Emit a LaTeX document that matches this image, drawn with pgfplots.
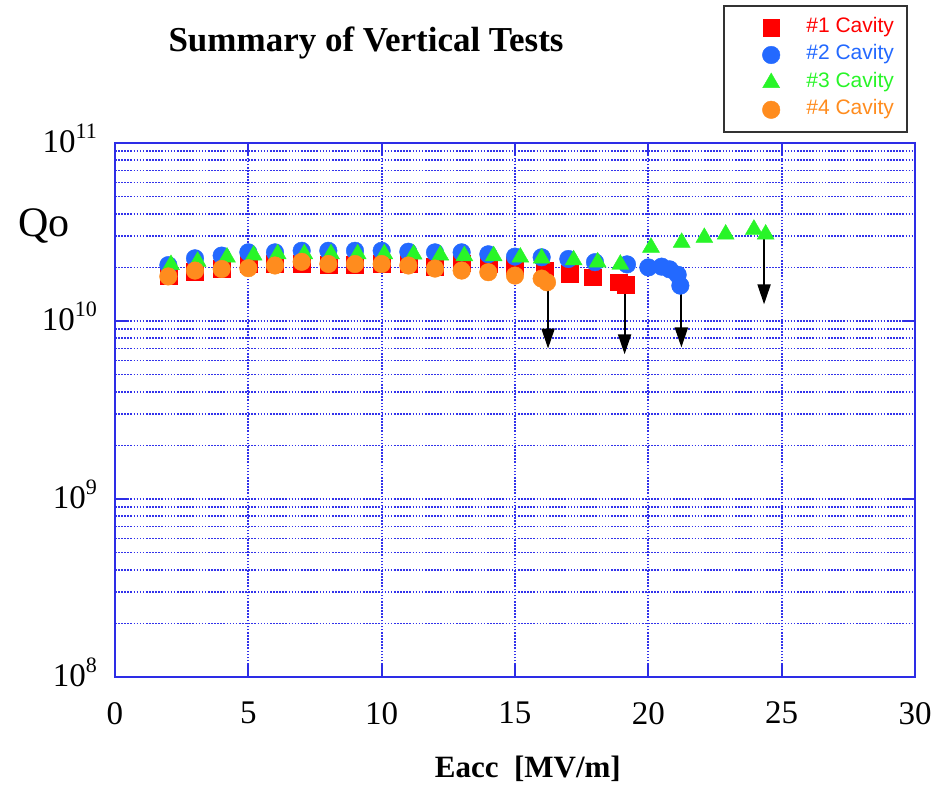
\documentclass[border=0pt]{standalone}
\usepackage{fontspec}
\setmainfont{Liberation Serif}
\setsansfont{Liberation Sans}
\usepackage{pgfplots}
\pgfplotsset{compat=1.18}
\usetikzlibrary{arrows.meta}

\definecolor{cavRed}{RGB}{255,0,0}
\definecolor{cavBlue}{RGB}{35,105,255}
\definecolor{cavGreen}{RGB}{40,245,40}
\definecolor{cavOrange}{RGB}{255,140,30}
\definecolor{axBlue}{RGB}{45,45,230}
\definecolor{gridBlue}{RGB}{50,50,235}

\newcommand{\pw}[1]{10\raisebox{0.42em}{\fontsize{11}{12}\selectfont #1}}

\pgfplotsset{
  legimg/.style={legend image code/.code={%
    \path (0pt,0pt) (34pt,0pt);
    \draw[mark repeat=2,mark phase=2] plot coordinates {(0pt,0pt)(17pt,0pt)(34pt,0pt)};}},
  dropArrow/.style={black, line width=1pt, -{Triangle[length=10pt,width=6.5pt]}, forget plot},
}

\begin{document}
\begin{tikzpicture}
\useasboundingbox (-57.5pt,-53.5pt) rectangle (414pt,338.5pt);
\begin{semilogyaxis}[
  at={(0,0)}, anchor=south west,
  scale only axis,
  width=400pt, height=267pt,
  xmin=0, xmax=30,
  ymin=1e8, ymax=1e11,
  xtick={0,5,10,15,20,25,30},
  xticklabels={0,5,10,15,20,25,30},
  ytick={1e8,1e9,1e10,1e11},
  yticklabels={\pw{8},\pw{9},\pw{10},\pw{11}},
  tick label style={font=\fontsize{16.5}{18}\selectfont},
  xticklabel style={yshift=-9pt},
  yticklabel style={xshift=-5.5pt, yshift=2.5pt},
  grid=both,
  major grid style={gridBlue, line width=0.9pt, dash pattern=on 0.8pt off 0.75pt},
  minor grid style={gridBlue, line width=0.9pt, dash pattern=on 0.8pt off 0.75pt},
  axis line style={axBlue, line width=1pt},
  major tick style={axBlue, line width=1pt},
  tick align=inside,
  major tick length=6pt,
  minor tick length=0pt,
  every axis title/.style={at={(0.3138,1.1704)}, anchor=base,
    font=\bfseries\fontsize{17.5}{20}\selectfont},
  title={Summary of Vertical Tests},
  every axis x label/.style={at={(0.516,-0.1891)}, anchor=base,
    font=\bfseries\fontsize{15.5}{18}\selectfont},
  xlabel={Eacc\ \ [MV/m]},
  every axis y label/.style={at={(-0.0888,0.8258)}, anchor=base,
    font=\fontsize{21}{24}\selectfont},
  ylabel={Qo},
  legend style={at={(0.76,1.2584)}, anchor=north west,
    draw=black!80, line width=1pt, fill=white,
    inner sep=6.5pt, row sep=4.5pt, column sep=0.5pt,
    nodes={inner sep=0pt, text height=7pt, text depth=2pt},
    font=\sffamily\fontsize{10.5}{12}\selectfont},
  legend cell align=left,
]
% #1 Cavity
\addplot[only marks, legimg, mark=square*, mark size=4.2pt, line width=0.2pt,
  mark options={draw=cavRed, fill=cavRed}] coordinates {
  (2,1.80e10) (3,1.90e10) (4,1.96e10) (5,2.09e10) (6,2.10e10) (7,2.10e10)
  (8,2.08e10) (9,2.08e10) (10,2.10e10) (11,2.10e10) (12,2.02e10) (13,2.11e10)
  (14,2.09e10) (15,2.05e10) (16.1,1.92e10) (17.05,1.84e10) (17.9,1.76e10)
  (18.9,1.65e10) (19.15,1.60e10)
};
% #2 Cavity
\addplot[only marks, legimg, mark=*, mark size=4.4pt, line width=0.2pt,
  mark options={draw=cavBlue, fill=cavBlue}] coordinates {
  (2,2.06e10) (3,2.25e10) (4,2.33e10) (5,2.43e10) (6,2.43e10) (7,2.48e10)
  (8,2.48e10) (9,2.48e10) (10,2.48e10) (11,2.45e10) (12,2.43e10) (13,2.43e10)
  (14,2.37e10) (15,2.30e10) (16,2.28e10) (17,2.23e10) (18,2.14e10)
  (19.2,2.08e10) (20.0,2.00e10) (20.5,2.02e10) (20.8,1.95e10) (21.1,1.82e10)
  (21.2,1.58e10)
};
% #3 Cavity
\addplot[only marks, legimg, mark=triangle*, mark size=4.9pt, line width=0.2pt,
  mark options={draw=cavGreen, fill=cavGreen}] coordinates {
  (2.1,2.07e10) (3.1,2.16e10) (4.2,2.28e10) (5.2,2.34e10) (6.1,2.38e10)
  (7.1,2.38e10) (8.1,2.38e10) (9.1,2.38e10) (10.1,2.38e10) (11.2,2.37e10)
  (12.2,2.34e10) (13.1,2.32e10) (14.2,2.32e10) (15.2,2.28e10) (16,2.25e10)
  (17.2,2.20e10) (18.1,2.14e10) (18.95,2.08e10) (20.1,2.59e10) (21.25,2.76e10)
  (22.1,2.94e10) (22.9,3.07e10) (23.96,3.27e10) (24.4,3.07e10)
};
% #4 Cavity
\addplot[only marks, legimg, mark=*, mark size=4.4pt, line width=0.2pt,
  mark options={draw=cavOrange, fill=cavOrange}] coordinates {
  (2,1.78e10) (3,1.92e10) (4,1.96e10) (5,1.98e10) (6,2.05e10) (7,2.15e10)
  (8,2.09e10) (9,2.09e10) (10,2.09e10) (11,2.05e10) (12,1.97e10) (13,1.92e10)
  (14,1.88e10) (15,1.80e10) (16,1.73e10) (16.2,1.65e10)
};
\legend{\textcolor{cavRed}{\#1 Cavity},\textcolor{cavBlue}{\#2 Cavity},
  \textcolor{cavGreen}{\#3 Cavity},\textcolor{cavOrange}{\#4 Cavity}}
% quench arrows
\addplot[dropArrow] coordinates {(16.24,1.65e10) (16.24,7.0e9)};
\addplot[dropArrow] coordinates {(19.11,1.60e10) (19.11,6.5e9)};
\addplot[dropArrow] coordinates {(21.24,1.58e10) (21.24,7.1e9)};
\addplot[dropArrow] coordinates {(24.34,3.07e10) (24.34,1.24e10)};
\end{semilogyaxis}
\end{tikzpicture}
\end{document}
